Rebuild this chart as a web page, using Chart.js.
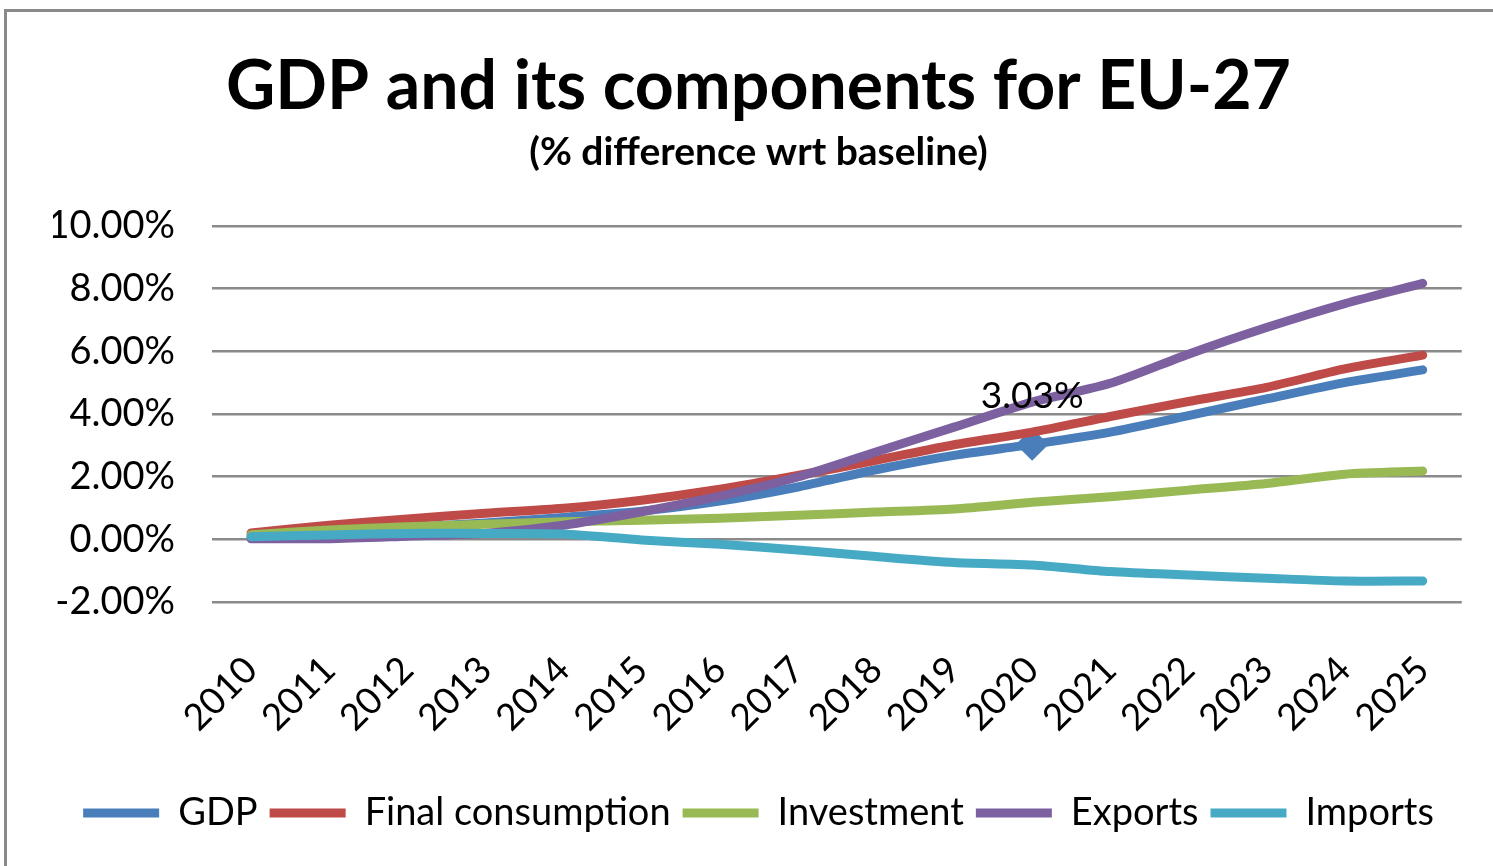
<!DOCTYPE html>
<html>
<head>
<meta charset="utf-8">
<script src="https://cdn.jsdelivr.net/npm/chart.js@4.4.1/dist/chart.umd.min.js"></script>
<style>
  html, body { margin: 0; padding: 0; background: #fff; overflow: hidden; }
  .frame { position: absolute; left: 4px; top: 9px; width: 1600px; height: 1000px; border: 3px solid #8a8a8a; }
  .wrap { position: absolute; left: 0; top: 0; width: 1493px; height: 866px; }
</style>
</head>
<body>
<div class="frame"></div>
<div class="wrap"><canvas id="gdpChart"></canvas></div>
<script>
const years = ["2010", "2011", "2012", "2013", "2014", "2015", "2016", "2017",
               "2018", "2019", "2020", "2021", "2022", "2023", "2024", "2025"];

const gdp         = [0.10, 0.25, 0.38, 0.52, 0.70, 0.90, 1.22, 1.67, 2.22, 2.68, 3.03, 3.42, 3.95, 4.48, 5.00, 5.41];
const consumption = [0.20, 0.45, 0.65, 0.83, 0.99, 1.25, 1.60, 2.04, 2.52, 3.02, 3.42, 3.92, 4.40, 4.85, 5.44, 5.88];
const investment  = [0.15, 0.30, 0.40, 0.48, 0.56, 0.61, 0.67, 0.77, 0.87, 0.97, 1.18, 1.36, 1.57, 1.78, 2.08, 2.18];
const exportsPct  = [0.02, 0.02, 0.10, 0.19, 0.45, 0.88, 1.38, 1.99, 2.79, 3.58, 4.38, 4.98, 5.91, 6.76, 7.52, 8.17];
const importsPct  = [0.08, 0.14, 0.19, 0.19, 0.17, -0.02, -0.16, -0.34, -0.55, -0.74, -0.82, -1.03, -1.14, -1.24, -1.33, -1.33];

const seriesNames = ["GDP", "Final consumption", "Investment", "Exports", "Imports"];
const labelledYear = "2020";

const FONT = "Lato";
const markIdx = years.indexOf(labelledYear);

// data label above the marked GDP point
const pointLabel = {
  id: "pointLabel",
  afterDatasetsDraw(chart) {
    const pt = chart.getDatasetMeta(0).data[markIdx];
    if (!pt) return;
    const ctx = chart.ctx;
    ctx.save();
    ctx.font = "37px " + FONT;
    ctx.fillStyle = "#000";
    ctx.textAlign = "center";
    ctx.textBaseline = "middle";
    ctx.fillText(gdp[markIdx].toFixed(2) + "%", pt.x, pt.y - 48);
    ctx.restore();
  }
};

function line(label, data, color, order) {
  return {
    label: label,
    data: data,
    borderColor: color,
    backgroundColor: color,
    borderWidth: 9,
    borderCapStyle: "round",
    borderJoinStyle: "round",
    tension: 0.25,
    pointRadius: 0,
    pointHoverRadius: 0,
    order: order
  };
}

const datasets = [
  line(seriesNames[0], gdp, "#4a7ebb", 5),
  line(seriesNames[1], consumption, "#be4b48", 4),
  line(seriesNames[2], investment, "#98b954", 3),
  line(seriesNames[3], exportsPct, "#7d60a0", 2),
  line(seriesNames[4], importsPct, "#46aac5", 1)
];
datasets[0].pointRadius = years.map((_, i) => i === markIdx ? 10 : 0);
datasets[0].pointStyle = "rectRot";

new Chart(document.getElementById("gdpChart"), {
  type: "line",
  data: { labels: years, datasets: datasets },
  options: {
    responsive: true,
    maintainAspectRatio: false,
    animation: false,
    layout: { padding: { left: 53, right: 29, top: 0, bottom: 24 } },
    plugins: {
      title: {
        display: true,
        text: "GDP and its components for EU-27",
        color: "#000",
        font: { family: FONT, size: 68, weight: "bold" },
        padding: { top: 46, bottom: 1 }
      },
      subtitle: {
        display: true,
        text: "(% difference wrt baseline)",
        color: "#000",
        font: { family: FONT, size: 39, weight: "bold" },
        padding: { top: 0, bottom: 50.6 }
      },
      legend: {
        position: "bottom",
        labels: {
          color: "#000",
          font: { family: FONT, size: 38 },
          usePointStyle: true,
          pointStyle: "line",
          pointStyleWidth: 76,
          padding: 12,
          sort: (a, b) => a.datasetIndex - b.datasetIndex
        }
      },
      tooltip: { enabled: false }
    },
    scales: {
      x: {
        offset: true,
        grid: { display: false },
        border: { display: false },
        ticks: {
          color: "#000",
          font: { family: FONT, size: 37 },
          minRotation: 45,
          maxRotation: 45,
          padding: 38
        },
        afterFit(scale) { scale.height = 180; }
      },
      y: {
        min: -2,
        max: 10,
        grid: { color: "#8a8a8a", lineWidth: 2.5, drawTicks: false },
        border: { display: false },
        ticks: {
          stepSize: 2,
          color: "#000",
          font: { family: FONT, size: 38 },
          padding: 37,
          callback: (v) => v.toFixed(2) + "%"
        },
        afterFit(scale) { scale.width = 159; }
      }
    }
  },
  plugins: [pointLabel]
});
</script>
</body>
</html>
